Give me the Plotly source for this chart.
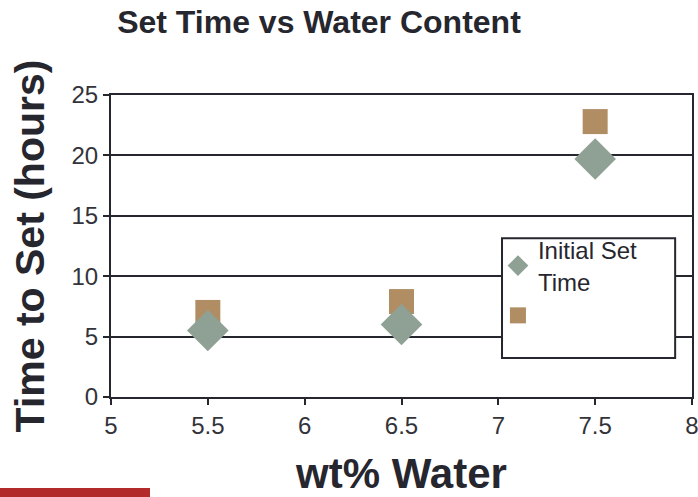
import plotly.graph_objects as go

# Water content (wt%) and measured set times (hours)
water_pct = [5.5, 6.5, 7.5]
initial_set = [5.5, 6.0, 19.7]
final_set = [7.0, 7.9, 22.8]

x_ticks = [5, 5.5, 6, 6.5, 7, 7.5, 8]
y_ticks = [0, 5, 10, 15, 20, 25]

INK = "#26262e"
FONT = "Liberation Sans, Arial, sans-serif"

fig = go.Figure()

fig.add_trace(go.Scatter(
    x=water_pct, y=final_set, mode="markers", name="",
    marker=dict(symbol="square", size=25, color="#b08d62",
                line=dict(width=0)),
))
fig.add_trace(go.Scatter(
    x=water_pct, y=initial_set, mode="markers", name="Initial Set<br>Time",
    marker=dict(symbol="diamond", size=32, color="#8fa195",
                line=dict(width=0)),
))

axis_common = dict(
    showline=True, linecolor=INK, linewidth=2, mirror=True,
    ticks="outside", ticklen=6, tickwidth=2, tickcolor=INK,
    tickfont=dict(family=FONT, size=24, color="#33333a"),
    zeroline=False, automargin=False, ticklabeloverflow="allow",
)

fig.update_layout(
    width=698, height=497,
    margin=dict(l=111, r=6, t=95, b=100),
    paper_bgcolor="white", plot_bgcolor="white",
    title=dict(text="<b>Set Time vs Water Content</b>",
               font=dict(family=FONT, size=32, color=INK),
               x=0.457, xanchor="center", y=0.956, yanchor="middle"),
    xaxis=dict(range=[5, 8], tickvals=x_ticks, showgrid=False,
               title=dict(text="<b>wt% Water</b>",
                          font=dict(family=FONT, size=42, color=INK),
                          standoff=26),
               **axis_common),
    yaxis=dict(range=[0, 25], tickvals=y_ticks, showgrid=True,
               gridcolor=INK, gridwidth=2,
               title=dict(text="<b>Time to Set (hours)</b>",
                          font=dict(family=FONT, size=41, color=INK),
                          standoff=14),
               **axis_common),
    legend=dict(x=0.666, y=0.56, xanchor="left", yanchor="top",
                bgcolor="rgba(0,0,0,0)", borderwidth=0,
                traceorder="reversed",
                font=dict(family=FONT, size=24, color=INK),
                itemsizing="trace"),
    showlegend=True,
)

# Framed white panel behind the legend entries
fig.add_shape(type="rect", xref="paper", yref="paper",
              x0=0.673, x1=0.971, y0=0.129, y1=0.526,
              fillcolor="white", line=dict(color=INK, width=2), layer="above")

# Accent bar along the lower-left edge of the page
fig.add_shape(type="rect", xref="paper", yref="paper",
              x0=-111 / 581, x1=39 / 581, y0=-100 / 302, y1=-91 / 302,
              fillcolor="#b22a2a", line=dict(width=0), layer="above")

fig.write_html("out.html")
